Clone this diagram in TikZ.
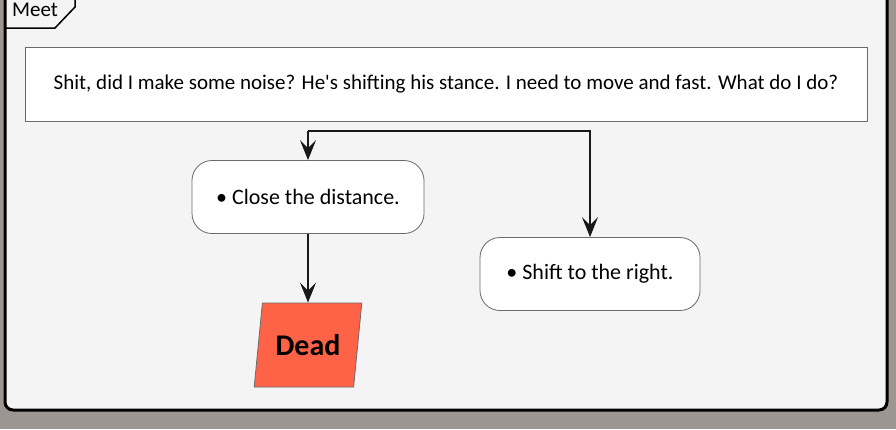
\documentclass[tikz,border=0pt]{standalone}
\usepackage{fontspec}
\setmainfont{Carlito}
\usepackage{tikz}
\usetikzlibrary{shapes.geometric, arrows.meta}

\definecolor{photobg}{HTML}{9C9693}
\definecolor{panelfill}{HTML}{F4F4F4}
\definecolor{boxline}{HTML}{6A6A6A}
\definecolor{flowline}{HTML}{181818}
\definecolor{deadfill}{HTML}{FF6347}

\tikzset{
	textbox/.style={draw=boxline, line width=0.8pt, fill=white, font=\fontsize{22}{25}\selectfont},
	actbox/.style={textbox, rounded corners=20pt, minimum height=73pt, inner xsep=22pt},
	endbox/.style={trapezium, trapezium left angle=77, trapezium right angle=103, trapezium stretches=true,
		draw=boxline, line width=0.8pt, fill=deadfill, minimum width=108pt, minimum height=84pt,
		font=\fontsize{30}{33}\selectfont\bfseries},
	flow/.style={draw=flowline, line width=2pt, -{Stealth[length=20pt, width=16pt, inset=8pt]}}
}

\begin{document}
\begin{tikzpicture}[x=1pt, y=-1pt]
		\useasboundingbox (0,0) rectangle (896,429);
		\fill[photobg] (0,0) rectangle (896,429);

		% Frame and tab
		\draw[line width=3pt, fill=panelfill, rounded corners=8pt] (5,-20) rectangle (887,410);
		\draw[line width=1.5pt] (5,28) -- (55,28) -- (75,7) -- (75,-2);
		\node[anchor=base west, inner sep=0pt, font=\fontsize{21}{24}\selectfont] (tab) at (12,16) {Meet};

		% Question
		\node[textbox, minimum width=842pt, minimum height=74pt, font=\fontsize{21}{24}\selectfont] (question) at (446,84)
			{Shit, did I make some noise? He\textquotesingle s shifting his stance. I need to move and fast. What do I do?};

		% Choices
		\node[actbox, minimum width=232pt] (close) at (308,197) {• Close the distance.};
		\node[actbox, minimum width=220pt] (shift) at (590,274) {• Shift to the right.};
		\node[endbox] (dead) at (308,345) {Dead};

		% Arrows
		\coordinate (split) at (308,131);
		\draw[flow] (split) -- (close);
		\draw[flow] (split) -| (shift);
		\draw[flow] (close) -- (dead);
	\end{tikzpicture}
\end{document}
